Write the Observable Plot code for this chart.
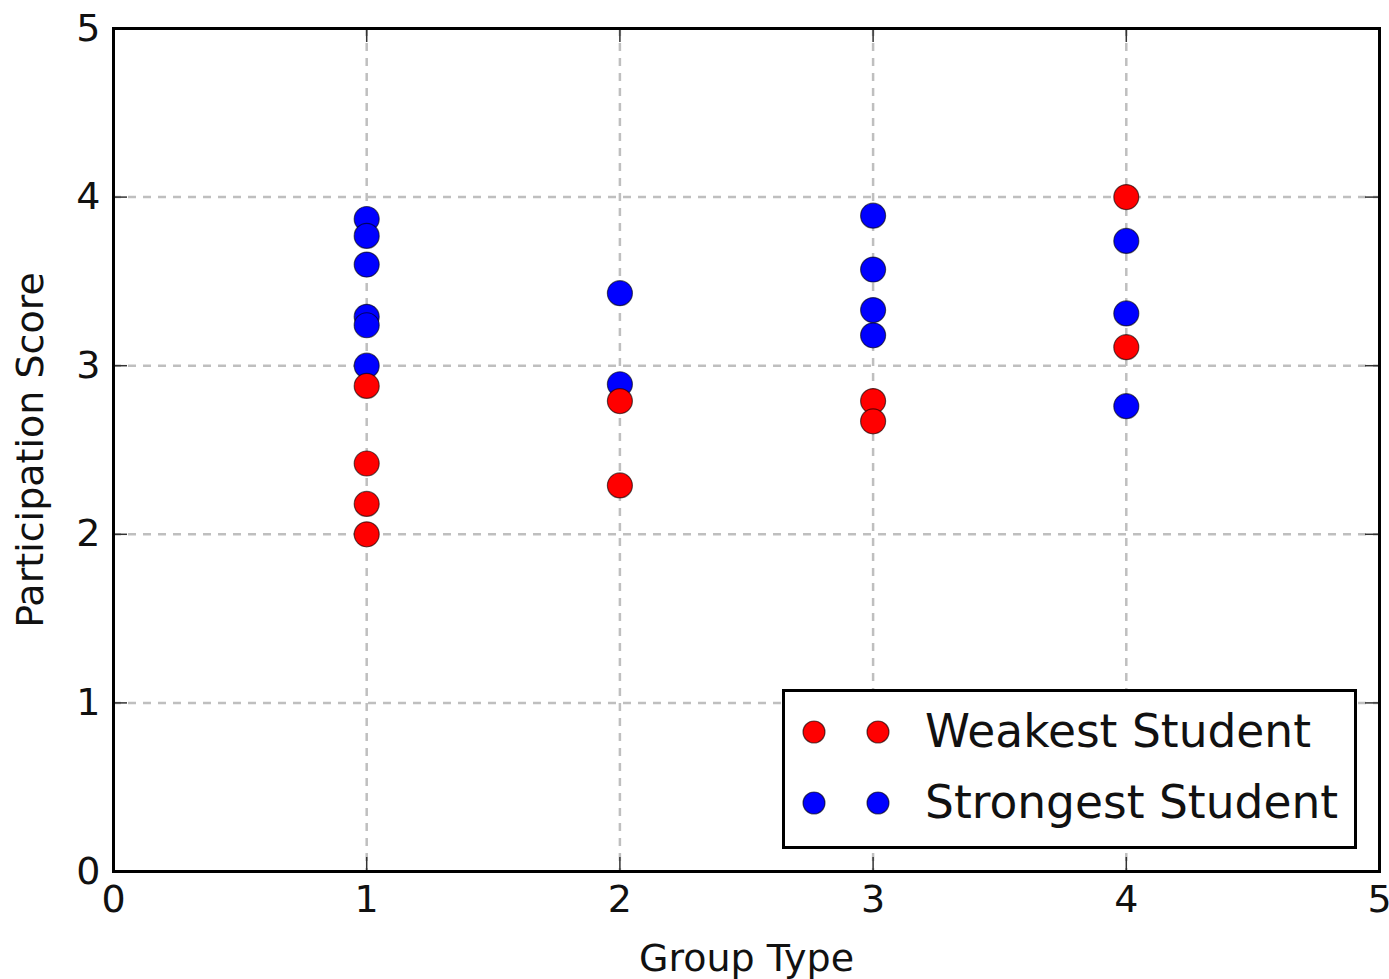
<!DOCTYPE html>
<html>
<head>
<meta charset="utf-8">
<script src="https://cdn.jsdelivr.net/npm/d3@7"></script>
<script src="https://cdn.jsdelivr.net/npm/@observablehq/plot@0.6"></script>
<style>
  html, body { margin: 0; padding: 0; background: white; }
  #wrap { position: relative; width: 1389px; height: 979px; font-family: "DejaVu Sans", sans-serif; }
  #legend { position: absolute; left: 782px; top: 689px; width: 569px; height: 154px; border: 3px solid black; background: white; }
  .row { position: absolute; left: 0; height: 50px; }
  .row span { position: absolute; left: 140px; font-size: 45.5px; color: #111; white-space: nowrap; line-height: 50px; top: 0; }
</style>
</head>
<body>
<div id="wrap"></div>
<script>
// ---- data ----
const seriesNames = ["Weakest Student", "Strongest Student"];
const seriesColors = ["#ff0000", "#0000ff"];

const weakGroup = [1, 1, 1, 1, 2, 2, 3, 3, 4, 4];
const weakScore = [2.88, 2.42, 2.18, 2.00, 2.79, 2.29, 2.79, 2.67, 4.00, 3.11];

const strongGroup = [1, 1, 1, 1, 1, 1, 2, 2, 3, 3, 3, 3, 4, 4, 4];
const strongScore = [3.87, 3.77, 3.60, 3.29, 3.24, 3.00, 3.43, 2.89, 3.89, 3.57, 3.33, 3.18, 3.74, 3.31, 2.76];

const xTicks = [0, 1, 2, 3, 4, 5];
const yTicks = [0, 1, 2, 3, 4, 5];
const xLabel = "Group Type";
const yLabel = "Participation Score";

// ---- build table ----
const strongRows = strongGroup.map((g, i) => ({group: g, score: strongScore[i], series: seriesNames[1]}));
const weakRows = weakGroup.map((g, i) => ({group: g, score: weakScore[i], series: seriesNames[0]}));

const W = 1389, H = 979;
const mL = 113, mR = 10, mT = 28, mB = 108;
const innerW = W - mL - mR, innerH = H - mT - mB;
const tickLen = 14;
const gridStyle = {stroke: "#bfbfbf", strokeOpacity: 1, strokeWidth: 2.5, strokeDasharray: "8,7"};
const tickStyle = {stroke: "#333", strokeWidth: 1.5, strokeOpacity: 1};
const dotStyle = {r: 12.5, stroke: "#000", strokeWidth: 1.2, strokeOpacity: 0.6};

const chart = Plot.plot({
  width: W,
  height: H,
  marginLeft: mL,
  marginRight: mR,
  marginTop: mT,
  marginBottom: mB,
  style: {fontFamily: "DejaVu Sans", background: "white", color: "#111"},
  x: {domain: [0, 5]},
  y: {domain: [0, 5]},
  color: {domain: seriesNames, range: seriesColors},
  marks: [
    Plot.ruleX(xTicks.slice(1, -1), {x: d => d, ...gridStyle}),
    Plot.ruleY(yTicks.slice(1, -1), {y: d => d, ...gridStyle}),
    Plot.tickX(xTicks, {x: d => d, insetTop: innerH - tickLen, ...tickStyle}),
    Plot.tickX(xTicks, {x: d => d, insetBottom: innerH - tickLen, ...tickStyle}),
    Plot.tickY(yTicks, {y: d => d, insetRight: innerW - tickLen, ...tickStyle}),
    Plot.tickY(yTicks, {y: d => d, insetLeft: innerW - tickLen, ...tickStyle}),
    Plot.axisX({ticks: xTicks, tickSize: 0, tickPadding: 14, fontSize: 38, tickFormat: d3.format("d"),
      label: xLabel, labelAnchor: "center", labelArrow: "none", labelOffset: 99}),
    Plot.axisY({ticks: yTicks, tickSize: 0, tickPadding: 13, fontSize: 38, tickFormat: d3.format("d"),
      label: yLabel, labelAnchor: "center", labelArrow: "none", labelOffset: 97}),
    Plot.dot(strongRows, {x: "group", y: "score", fill: "series", ...dotStyle}),
    Plot.dot(weakRows, {x: "group", y: "score", fill: "series", ...dotStyle}),
    Plot.frame({stroke: "#000", strokeWidth: 3})
  ]
});

const wrap = document.getElementById("wrap");
wrap.appendChild(chart);

// ---- legend ----
const legend = document.createElement("div");
legend.id = "legend";
seriesNames.forEach((name, i) => {
  const row = document.createElement("div");
  row.className = "row";
  row.style.top = (15 + i * 71) + "px";
  row.style.width = "560px";
  const svgNS = "http://www.w3.org/2000/svg";
  const s = document.createElementNS(svgNS, "svg");
  s.setAttribute("width", "130");
  s.setAttribute("height", "50");
  s.style.position = "absolute";
  s.style.left = "0";
  s.style.top = "0";
  [29, 93].forEach(cx => {
    const c = document.createElementNS(svgNS, "circle");
    c.setAttribute("cx", cx);
    c.setAttribute("cy", 25);
    c.setAttribute("r", 11);
    c.setAttribute("fill", seriesColors[i]);
    c.setAttribute("stroke", "#000");
    c.setAttribute("stroke-opacity", "0.6");
    c.setAttribute("stroke-width", "1.2");
    s.appendChild(c);
  });
  row.appendChild(s);
  const t = document.createElement("span");
  t.textContent = name;
  row.appendChild(t);
  legend.appendChild(row);
});
wrap.appendChild(legend);
</script>
</body>
</html>
